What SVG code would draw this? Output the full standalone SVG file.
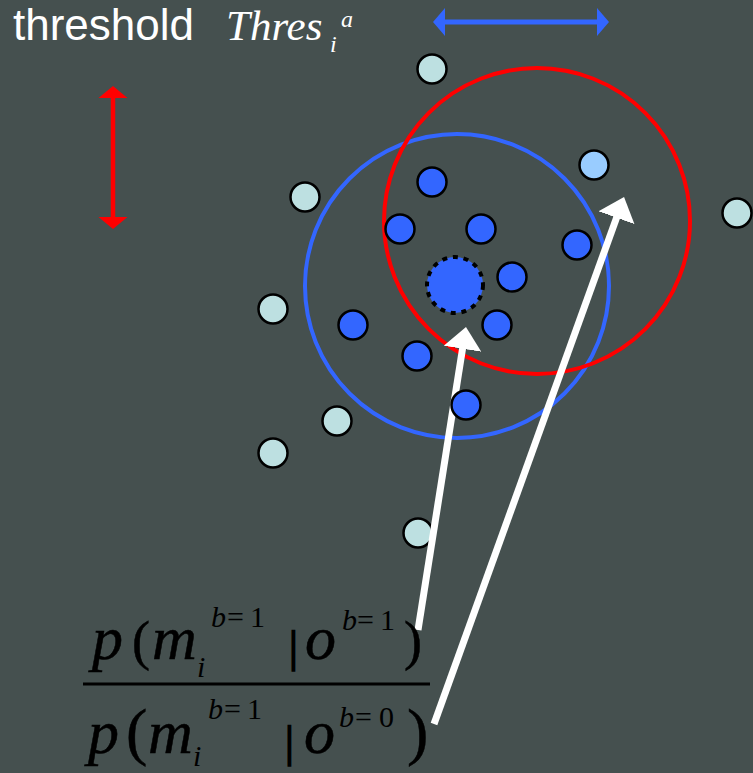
<svg xmlns="http://www.w3.org/2000/svg" width="753" height="773" viewBox="0 0 753 773">
<style>
.bg{fill:#45504f}
.pt{stroke:#000;stroke-width:2.5}
.pale{fill:#bde0e1}
.lb{fill:#99ccff}
.bl{fill:#3366ff}
.ring{fill:none;stroke-width:4}
.wa{stroke:#fff;stroke-width:7;fill:none}
.it{font-family:"Liberation Serif","Times New Roman",serif;font-style:italic;fill:#000;stroke:#000;stroke-width:0.5}
.rm{font-family:"Liberation Serif","Times New Roman",serif;fill:#000;stroke:#000;stroke-width:0.5}
.sm{stroke-width:0}
.bar{stroke-width:1.6}
.ttl{font-family:"Liberation Sans",Arial,sans-serif;fill:#fff}
.tt{font-family:"Liberation Serif","Times New Roman",serif;font-style:italic;fill:#fff}
</style>
<defs>
<marker id="hw" markerUnits="userSpaceOnUse" viewBox="0 -19 22 38" markerWidth="22" markerHeight="38" refX="3" refY="0" orient="auto"><path d="M0,-19 L22,0 L0,19 z" fill="#fff"/></marker>
<marker id="hr" markerUnits="userSpaceOnUse" viewBox="0 -15 12 30" markerWidth="12" markerHeight="30" refX="9" refY="0" orient="auto-start-reverse"><path d="M0,-14.5 L12,0 L0,14.5 z" fill="#ff0000"/></marker>
<marker id="hb" markerUnits="userSpaceOnUse" viewBox="0 -15 12 30" markerWidth="12" markerHeight="30" refX="9" refY="0" orient="auto-start-reverse"><path d="M0,-14 L12,0 L0,14 z" fill="#3366ff"/></marker>
</defs>
<rect class="bg" x="0" y="0" width="753" height="773"/>
<g id="title">
<text class="ttl" x="13" y="40" font-size="44">threshold</text>
<text class="tt" x="226" y="40" font-size="43">Thres</text>
<text class="tt" x="330" y="52" font-size="24">i</text>
<text class="tt" x="341" y="27" font-size="24">a</text>
</g>
<g id="blue-range"><line x1="436" y1="22" x2="606" y2="22" stroke="#3366ff" stroke-width="5" marker-start="url(#hb)" marker-end="url(#hb)"/></g>
<g id="red-range"><line x1="113" y1="89" x2="113" y2="226" stroke="#ff0000" stroke-width="4.5" marker-start="url(#hr)" marker-end="url(#hr)"/></g>
<g id="blue-ring"><circle class="ring" cx="457" cy="286" r="152" stroke="#3366ff"/></g>
<g id="red-ring"><circle class="ring" cx="537" cy="221" r="153" stroke="#ff0000"/></g>
<g id="p1"><circle class="pt pale" cx="432" cy="69" r="14.5"/></g>
<g id="p2"><circle class="pt pale" cx="305" cy="197" r="14.5"/></g>
<g id="p3"><circle class="pt pale" cx="273" cy="309" r="14.5"/></g>
<g id="p4"><circle class="pt pale" cx="337" cy="421" r="14.5"/></g>
<g id="p5"><circle class="pt pale" cx="273" cy="453" r="14.5"/></g>
<g id="p6"><circle class="pt pale" cx="418" cy="533" r="14.5"/></g>
<g id="p7"><circle class="pt pale" cx="737" cy="213" r="14.5"/></g>
<g id="p8"><circle class="pt lb" cx="594" cy="165" r="14.5"/></g>
<g id="b1"><circle class="pt bl" cx="432" cy="182" r="14.5"/></g>
<g id="b2"><circle class="pt bl" cx="400" cy="229" r="14.5"/></g>
<g id="b3"><circle class="pt bl" cx="481" cy="229" r="14.5"/></g>
<g id="b4"><circle class="pt bl" cx="577" cy="245" r="14.5"/></g>
<g id="b5"><circle class="pt bl" cx="512" cy="277" r="14.5"/></g>
<g id="b6"><circle class="pt bl" cx="497" cy="325" r="14.5"/></g>
<g id="b7"><circle class="pt bl" cx="353" cy="325" r="14.5"/></g>
<g id="b8"><circle class="pt bl" cx="417" cy="356" r="14.5"/></g>
<g id="target"><circle class="bl" cx="455" cy="285" r="28" stroke="#000" stroke-width="4" stroke-dasharray="5 5.8"/></g>
<g id="connectors">
<line class="wa" x1="418" y1="630" x2="463" y2="345.8" marker-end="url(#hw)"/>
<line class="wa" x1="434" y1="724" x2="617.6" y2="214.9" marker-end="url(#hw)"/>
</g>
<g id="b9"><circle class="pt bl" cx="466" cy="405" r="14.5"/></g>
<g id="formula">
<text class="it" x="92" y="659" font-size="62">p</text>
<text class="rm" x="132" y="659" font-size="54">(</text>
<text class="it" x="152" y="659" font-size="62">m</text>
<text class="it sm" x="197" y="677" font-size="30">i</text>
<text class="it sm" x="211" y="627" font-size="30">b</text>
<text class="rm sm" x="227" y="627" font-size="30">=</text>
<text class="rm sm" x="250" y="627" font-size="30">1</text>
<text class="rm bar" x="289" y="662" font-size="44">|</text>
<text class="it" x="305" y="659" font-size="62">o</text>
<text class="it sm" x="342" y="630" font-size="30">b</text>
<text class="rm sm" x="357" y="630" font-size="30">=</text>
<text class="rm sm" x="380" y="630" font-size="30">1</text>
<text class="rm" x="404" y="659" font-size="54">)</text>
<line x1="83" y1="684" x2="430" y2="684" stroke="#000" stroke-width="3"/>
<text class="it" x="88" y="753" font-size="62">p</text>
<text class="rm" x="126" y="753" font-size="64">(</text>
<text class="it" x="148" y="753" font-size="62">m</text>
<text class="it sm" x="193" y="766" font-size="30">i</text>
<text class="it sm" x="208" y="719" font-size="30">b</text>
<text class="rm sm" x="224" y="719" font-size="30">=</text>
<text class="rm sm" x="247" y="719" font-size="30">1</text>
<text class="rm bar" x="285" y="757" font-size="44">|</text>
<text class="it" x="304" y="753" font-size="62">o</text>
<text class="it sm" x="339" y="727" font-size="30">b</text>
<text class="rm sm" x="355" y="727" font-size="30">=</text>
<text class="rm sm" x="379" y="727" font-size="30">0</text>
<text class="rm" x="407" y="753" font-size="64">)</text>
</g>
</svg>
